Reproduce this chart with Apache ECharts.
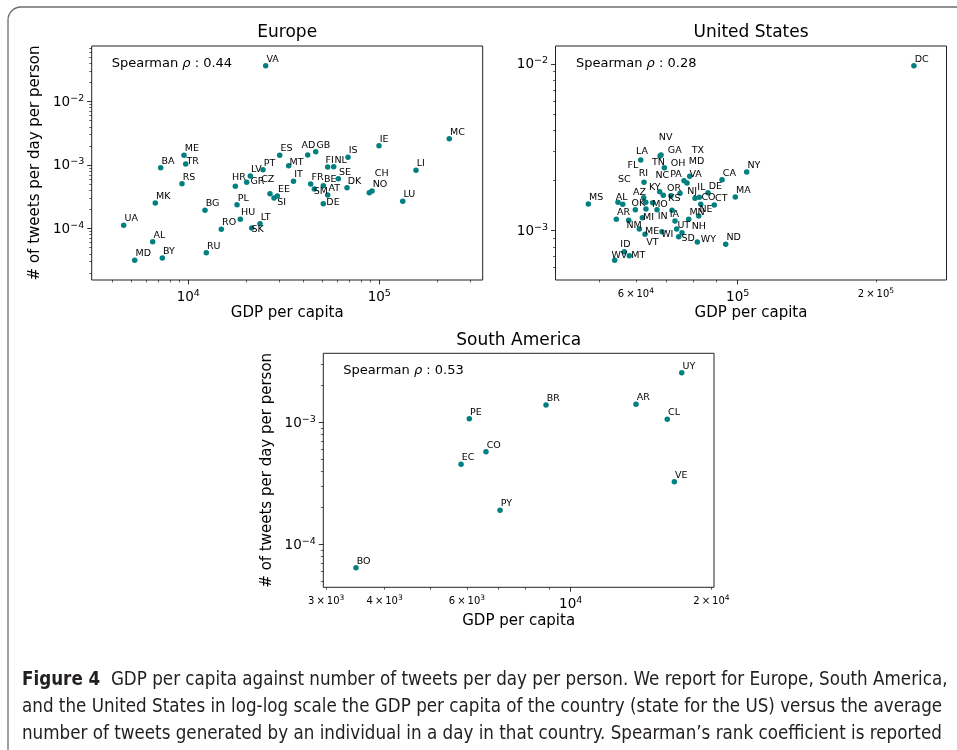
<!DOCTYPE html>
<html>
<head>
<meta charset="utf-8">
<script src="https://cdn.jsdelivr.net/npm/echarts@6/dist/echarts.min.js"></script>
<style>
  html, body { margin: 0; padding: 0; background: #ffffff; }
  #chart { width: 957px; height: 750px; }
</style>
</head>
<body>
<div id="chart"></div>
<script>
// ---- Europe: GDP per capita vs tweets per day per person ----
const europeCodes = ['VA','ME','TR','BA','RS','MK','UA','AL','MD','BY','BG','RO','RU','HU','PL','HR','GR','LV','PT','ES','MT','IT','CZ','EE','SI','LT','SK','AD','GB','IS','IE','FI','NL','SE','FR','BE','SM','AT','DK','DE','CH','NO','LU','LI','MC'];
const europeGdp = [25420,9495,9691,7170,9268,6718,4590,6510,5241,7311,12230,14890,12420,18720,17990,17630,20220,21120,24610,30100,33550,35540,26770,29240,28100,23740,21470,42190,46450,68580,99640,53680,57720,61010,43730,50910,45670,53680,67760,50910,88640,91580,132620,155640,232500];
const europeTweets = [0.03663,0.001421,0.001037,0.000907,0.000508,0.000252,0.0001123,0.00006195,0.00003155,0.0000343,0.0001934,0.0000971,0.00004157,0.0001396,0.000237,0.000462,0.000534,0.000671,0.000843,0.001421,0.000975,0.000554,0.000353,0.000325,0.000302,0.000119,0.0001018,0.001437,0.00162,0.001322,0.002014,0.00093,0.00094,0.000608,0.000502,0.000472,0.000419,0.000337,0.000439,0.000246,0.000366,0.00039,0.000268,0.000825,0.002595];
const europeRho = 0.44;

// ---- United States (by state) ----
const usCodes = ['DC','NY','CA','MA','CT','ND','WY','MS','DE','IL','NJ','CO','NE','MN','UT','NH','SD','WI','ME','VT','NM','ID','MT','WV','AR','AL','SC','OK','AZ','MO','MI','KY','LA','GA','NV','TN','RI','PA','VA','OR','KS','TX','MD','OH','NC','FL','IN','IA'];
const usGdp = [242000,104600,92430,98800,88900,94150,81660,47270,86160,82480,80720,83070,82240,78190,73620,75620,74380,68390,61050,62810,57880,56620,58050,53950,54390,54850,56170,59840,62400,63100,61980,67610,61470,68070,67740,69200,62500,76380,78600,68840,71550,77540,74860,71920,65280,63040,66710,73010];
const usTweets = [0.00977,0.00225,0.00202,0.00159,0.001426,0.000829,0.000855,0.001446,0.00169,0.001586,0.001565,0.00144,0.001225,0.00117,0.001024,0.000973,0.00092,0.000986,0.001024,0.000951,0.001154,0.000748,0.000708,0.000665,0.00117,0.00148,0.00144,0.001336,0.001578,0.00135,0.001197,0.001714,0.002655,0.002845,0.002806,0.002387,0.001951,0.001995,0.00212,0.001631,0.001622,0.001932,0.001677,0.001326,0.001472,0.00148,0.001336,0.001143];
const usRho = 0.28;

// ---- South America ----
const saCodes = ['UY','BR','AR','CL','PE','CO','EC','VE','PY','BO'];
const saGdp = [17280,8855,13794,16090,6070,6589,5828,16660,7062,3473];
const saTweets = [0.00255,0.001386,0.001404,0.001058,0.00107,0.000574,0.000453,0.000326,0.00019,0.0000643];
const saRho = 0.53;

// ---- tick labels ----
const europeXMajor = [1e4, 1e5];
const europeYMajor = [1e-4, 1e-3, 1e-2];
const usXMajor = [1e5];
const usXMinorLabels = [6e4, 2e5];
const usYMajor = [1e-3, 1e-2];
const saXMajor = [1e4];
const saXMinorLabels = [3e3, 4e3, 6e3, 2e4];
const saYMajor = [1e-4, 1e-3];

const panelTitles = ['Europe', 'United States', 'South America'];
const xName = 'GDP per capita';
const yName = '# of tweets per day per person';
const captionLines = [
  ['Figure 4', '  GDP per capita against number of tweets per day per person. We report for Europe, South America,'],
  ['', 'and the United States in log-log scale the GDP per capita of the country (state for the US) versus the average'],
  ['', 'number of tweets generated by an individual in a day in that country. Spearman\u2019s rank coefficient is reported']
];

// Label nudges (px) for annotations pushed away from their points
const europeNudge = { CZ: [-9.5, -7.4], SI: [2.5, 10.7], SK: [-1, 7.7], CH: [4.7, -12.4], SM: [-1.3, 9], DE: [2.3, 5.3], FI: [-3, 0], AD: [-7, -3], GR: [3, 5.7], HR: [-4, -2], TR: [0, 4], MT: [0, 3.6] };
const usNudge = {
  NV: [-2, -12], SC: [-5.5, -18], FL: [-19, -30.6], NC: [2, -20.7], OH: [-2, -40.6], TX: [4, -26], MD: [8, -25],
  GA: [6, 2], TN: [-13, 1.3], KY: [-11.5, 2], OR: [3, 0], KS: [-3.5, 9.3], AZ: [-11.5, 1.3], AL: [-3, 1.4],
  OK: [-4.7, 0], MO: [5.5, 1.7], MI: [0, 6], IN: [0, 13], IA: [-6, 0], NM: [-3, 11.7], NH: [9, 0], ME: [5, 9],
  WI: [-1.5, 9.6], VT: [0.5, 14.4], SD: [2, 8], WY: [2.7, 4], ID: [-4.7, -1], WV: [-4, 1.7], MT: [1.3, 6],
  NJ: [-8.5, 0], IL: [-2.7, -3.6], RI: [-6, -2], PA: [-14.5, 0], VA: [-1, 5], LA: [-5.5, -2.3], UT: [0, 3]
};

const FONT = 'DejaVu Sans';
const TEAL = '#008080';
const INK = '#000000';
const LABEL_BASE = [-2, -6.5];

// minor tick positions k*10^n (k = 2..9) inside [lo, hi]
function minorTicks(lo, hi) {
  const out = [];
  for (let n = Math.floor(Math.log10(lo)); n <= Math.ceil(Math.log10(hi)); n++) {
    for (let k = 2; k <= 9; k++) {
      const v = +(k * Math.pow(10, n)).toPrecision(6);
      if (v >= lo && v <= hi) out.push(v);
    }
  }
  return out;
}
function supText(n) { return String(n).replace('-', '\u2212'); }
function majorFmt(v) {
  const e = Math.round(Math.log10(v));
  return '{b|10}{e|' + supText(e) + '}';
}
function minorFmt(v) {
  const e = Math.floor(Math.log10(v) + 1e-9);
  const m = Math.round(v / Math.pow(10, e));
  return '{m|' + m + '\u2009\u00d7\u200910}{me|' + supText(e) + '}';
}
const richMajor = {
  b: { fontFamily: FONT, fontSize: 13.5, lineHeight: 16, verticalAlign: 'bottom', color: INK },
  e: { fontFamily: FONT, fontSize: 9.5, lineHeight: 8, verticalAlign: 'top', color: INK }
};
const richMinor = {
  m: { fontFamily: FONT, fontSize: 10, lineHeight: 12, verticalAlign: 'bottom', color: INK },
  me: { fontFamily: FONT, fontSize: 7.5, lineHeight: 6, verticalAlign: 'top', color: INK }
};

// Builds the pair of log axes (major + minor) for one side of one panel
function logAxes(gridIndex, dim, range, major, minorLabels, named, nameGap) {
  const isX = dim === 'x';
  const common = {
    type: 'log', logBase: 10, gridIndex: gridIndex, min: range[0], max: range[1],
    position: isX ? 'bottom' : 'left', offset: 0,
    axisLine: { show: false }, splitLine: { show: false }, minorTick: { show: false }, minorSplitLine: { show: false }
  };
  const majorAxis = Object.assign({}, common, {
    axisTick: { show: true, customValues: major, length: 4.5, lineStyle: { color: INK, width: 0.8 } },
    axisLabel: { show: true, customValues: major, formatter: majorFmt, rich: richMajor, margin: isX ? 8.5 : 7.5, color: INK }
  });
  if (named) {
    Object.assign(majorAxis, {
      name: isX ? xName : yName, nameLocation: 'middle', nameGap: nameGap,
      nameTextStyle: { fontFamily: FONT, fontSize: 15, color: INK }
    });
  }
  const minorAxis = Object.assign({}, common, {
    axisTick: { show: true, customValues: minorTicks(range[0], range[1]), length: 2.5, lineStyle: { color: INK, width: 0.6 } },
    axisLabel: minorLabels.length
      ? { show: true, customValues: minorLabels, formatter: minorFmt, rich: richMinor, margin: 7, color: INK }
      : { show: false }
  });
  return [majorAxis, minorAxis];
}

function scatter(codes, gdp, tweets, axisIndex, nudges) {
  return {
    type: 'scatter', xAxisIndex: axisIndex, yAxisIndex: axisIndex,
    symbol: 'circle', symbolSize: 5.5,
    itemStyle: { color: TEAL, opacity: 1 },
    label: { show: true, position: 'right', distance: 0, offset: LABEL_BASE, formatter: '{b}', fontFamily: FONT, fontSize: 9.5, color: INK },
    emphasis: { disabled: true },
    data: codes.map(function (c, i) {
      const item = { name: c, value: [gdp[i], tweets[i]] };
      if (nudges[c]) item.label = { offset: [LABEL_BASE[0] + nudges[c][0], LABEL_BASE[1] + nudges[c][1]] };
      return item;
    })
  };
}

const grids = [
  { left: 91.7, top: 46, width: 391, height: 234 },
  { left: 555.5, top: 46, width: 391, height: 234 },
  { left: 323.3, top: 353.3, width: 390.7, height: 234 }
];
const ranges = {
  eu: { x: [3121, 347800], y: [1.545e-5, 0.0748] },
  us: { x: [40090, 285000], y: [0.000506, 0.01282] },
  sa: { x: [2957, 20255], y: [4.44e-5, 0.003677] }
};

const xAxes = [].concat(
  logAxes(0, 'x', ranges.eu.x, europeXMajor, [], true, 26),
  logAxes(1, 'x', ranges.us.x, usXMajor, usXMinorLabels, true, 26),
  logAxes(2, 'x', ranges.sa.x, saXMajor, saXMinorLabels, true, 26)
);
const yAxes = [].concat(
  logAxes(0, 'y', ranges.eu.y, europeYMajor, [], true, 49),
  logAxes(1, 'y', ranges.us.y, usYMajor, [], false, 0),
  logAxes(2, 'y', ranges.sa.y, saYMajor, [], true, 49)
);

// caption font size fitted to the text block width
const CAPTION_FONT = '"Liberation Sans Narrow", "DejaVu Sans Condensed", "Liberation Sans", sans-serif';
function captionSize() {
  const ctx = document.createElement('canvas').getContext('2d');
  const base = 17;
  let size = 40;
  captionLines.forEach(function (ln) {
    ctx.font = 'bold ' + base + 'px ' + CAPTION_FONT;
    let w = ctx.measureText(ln[0]).width;
    ctx.font = base + 'px ' + CAPTION_FONT;
    w += ctx.measureText(ln[1]).width;
    size = Math.min(size, base * 926 / w);
  });
  return size;
}
const capSize = captionSize();

function spearman(x, y, rho) {
  return {
    type: 'text', x: x, y: y, silent: true,
    style: {
      text: '{n|Spearman }{r|\u03c1}{n| : ' + rho.toFixed(2) + '}',
      textVerticalAlign: 'middle', verticalAlign: 'middle',
      rich: {
        n: { fontFamily: FONT, fontSize: 13, fill: INK, color: INK },
        r: { fontFamily: FONT, fontSize: 13, fontStyle: 'italic', fill: INK, color: INK }
      }
    }
  };
}
function title(x, y, t) {
  return { type: 'text', x: x, y: y, silent: true,
    style: { text: t, fontFamily: FONT, fontSize: 17, fill: INK, align: 'center', verticalAlign: 'middle' } };
}

const graphics = [
  { type: 'rect', silent: true, shape: { x: 8, y: 7, width: 1000, height: 800, r: 13 },
    style: { fill: 'none', stroke: '#6d6e71', lineWidth: 1.3 } },
  title(287.2, 33, panelTitles[0]),
  title(751, 33, panelTitles[1]),
  title(518.7, 341, panelTitles[2]),
  spearman(111.7, 63.3, europeRho),
  spearman(576, 63.3, usRho),
  spearman(343.3, 371, saRho)
];
[680, 707, 734].forEach(function (yy, i) {
  const ln = captionLines[i];
  graphics.push({
    type: 'text', x: 22, y: yy, silent: true,
    style: {
      text: (ln[0] ? '{b|' + ln[0] + '}' : '') + '{r|' + ln[1] + '}',
      verticalAlign: 'middle',
      rich: {
        b: { fontFamily: CAPTION_FONT, fontSize: capSize, fontWeight: 'bold', fill: '#231f20', color: '#231f20' },
        r: { fontFamily: CAPTION_FONT, fontSize: capSize, fill: '#231f20', color: '#231f20' }
      }
    }
  });
});

const chart = echarts.init(document.getElementById('chart'), null, { renderer: 'canvas' });
chart.setOption({
  animation: false,
  backgroundColor: '#ffffff',
  grid: grids.map(function (g) {
    return Object.assign({ show: true, borderColor: '#222', borderWidth: 1, backgroundColor: 'transparent', containLabel: false }, g);
  }),
  xAxis: xAxes,
  yAxis: yAxes,
  series: [
    scatter(europeCodes, europeGdp, europeTweets, 0, europeNudge),
    scatter(usCodes, usGdp, usTweets, 2, usNudge),
    scatter(saCodes, saGdp, saTweets, 4, {})
  ],
  graphic: graphics
});
</script>
</body>
</html>
